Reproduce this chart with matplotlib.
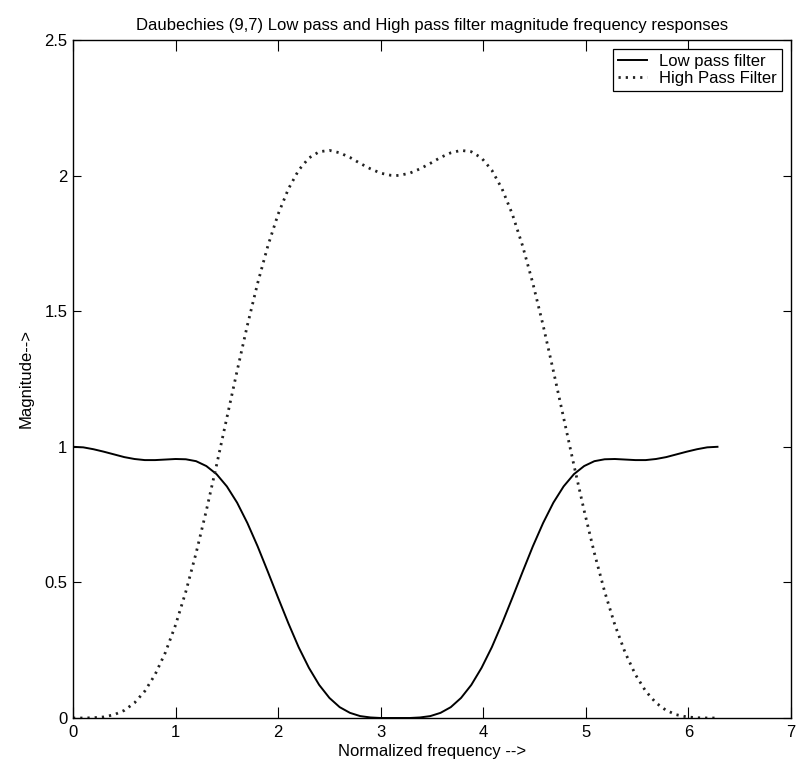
import matplotlib
matplotlib.use("Agg")
import matplotlib.pyplot as plt
from matplotlib.ticker import FuncFormatter

plt.rcParams['font.family'] = ['Liberation Sans', 'DejaVu Sans']

# Normalized frequency (rad/sample), 0 .. 2*pi
freq = [0.0, 0.1, 0.2, 0.3, 0.4, 0.5, 0.6, 0.7, 0.8, 0.9,
        1.0, 1.1, 1.2, 1.3, 1.4, 1.5, 1.6, 1.7, 1.8, 1.9,
        2.0, 2.1, 2.2, 2.3, 2.4, 2.5, 2.6, 2.7, 2.8, 2.9,
        3.0, 3.1, 3.1416,
        3.1832, 3.2832, 3.3832, 3.4832, 3.5832, 3.6832, 3.7832, 3.8832,
        3.9832, 4.0832, 4.1832, 4.2832, 4.3832, 4.4832, 4.5832, 4.6832,
        4.7832, 4.8832, 4.9832, 5.0832, 5.1832, 5.2832, 5.3832, 5.4832,
        5.5832, 5.6832, 5.7832, 5.8832, 5.9832, 6.0832, 6.1832, 6.2832]

# Magnitude of the 9/7 analysis low pass filter
low_pass = [1.000, 0.998, 0.991, 0.982, 0.972, 0.962, 0.955, 0.951, 0.951, 0.953,
            0.955, 0.954, 0.947, 0.929, 0.899, 0.854, 0.794, 0.719, 0.633, 0.539,
            0.443, 0.349, 0.261, 0.185, 0.122, 0.074, 0.040, 0.019, 0.007, 0.002,
            0.000, 0.000, 0.000,
            0.000, 0.000, 0.002, 0.007, 0.019, 0.040, 0.074, 0.122,
            0.185, 0.261, 0.349, 0.443, 0.539, 0.633, 0.719, 0.794,
            0.854, 0.899, 0.929, 0.947, 0.954, 0.955, 0.953, 0.951,
            0.951, 0.955, 0.962, 0.972, 0.982, 0.991, 0.998, 1.000]

# Magnitude of the 9/7 analysis high pass filter
high_pass = [0.000, 0.000, 0.001, 0.004, 0.012, 0.028, 0.056, 0.099, 0.160, 0.241,
             0.343, 0.466, 0.608, 0.765, 0.933, 1.107, 1.280, 1.448, 1.603, 1.741,
             1.858, 1.951, 2.020, 2.065, 2.088, 2.093, 2.084, 2.067, 2.045, 2.025,
             2.009, 2.001, 2.000,
             2.001, 2.009, 2.025, 2.045, 2.067, 2.084, 2.093, 2.088,
             2.065, 2.020, 1.951, 1.858, 1.741, 1.603, 1.448, 1.280,
             1.107, 0.933, 0.765, 0.608, 0.466, 0.343, 0.241, 0.160,
             0.099, 0.056, 0.028, 0.012, 0.004, 0.001, 0.000, 0.000]

x_ticks = [0, 1, 2, 3, 4, 5, 6, 7]
y_ticks = [0, 0.5, 1, 1.5, 2, 2.5]

fig = plt.figure(figsize=(7.96, 7.62), dpi=100)
ax = fig.add_axes([73 / 796, 44 / 762, 718 / 796, 678 / 762])

ax.plot(freq, low_pass, color='black', linewidth=1.4, label='Low pass filter')
ax.plot(freq, high_pass, color='#222222', linewidth=2.0,
        linestyle=(0, (0.8, 1.8)), label='High Pass Filter')

ax.set_xlim(0, 7)
ax.set_ylim(0, 2.5)
ax.set_xticks(x_ticks)
ax.set_yticks(y_ticks)
ax.yaxis.set_major_formatter(FuncFormatter(lambda v, p: f"{v:g}"))

ax.tick_params(axis='both', direction='in', top=True, right=True,
               labelsize=12, colors='black')
ax.tick_params(axis='x', length=8, pad=5)
ax.tick_params(axis='y', length=6, pad=4)
for s in ax.spines.values():
    s.set_linewidth(1.0)
    s.set_color('black')

ax.set_title('Daubechies (9,7) Low pass and High pass filter magnitude frequency responses',
             fontsize=12, pad=7)
ax.set_xlabel('Normalized frequency -->', fontsize=12, labelpad=3)
ax.set_ylabel('Magnitude-->', fontsize=12, labelpad=8)

leg = ax.legend(loc='upper right', fontsize=12, frameon=True, fancybox=False,
                edgecolor='black', framealpha=1, handlelength=1.75,
                borderaxespad=0.55, borderpad=0.3, labelspacing=0.1,
                handletextpad=0.7)
leg.get_frame().set_linewidth(0.9)

fig.savefig('out.png', dpi=100, facecolor='white')
